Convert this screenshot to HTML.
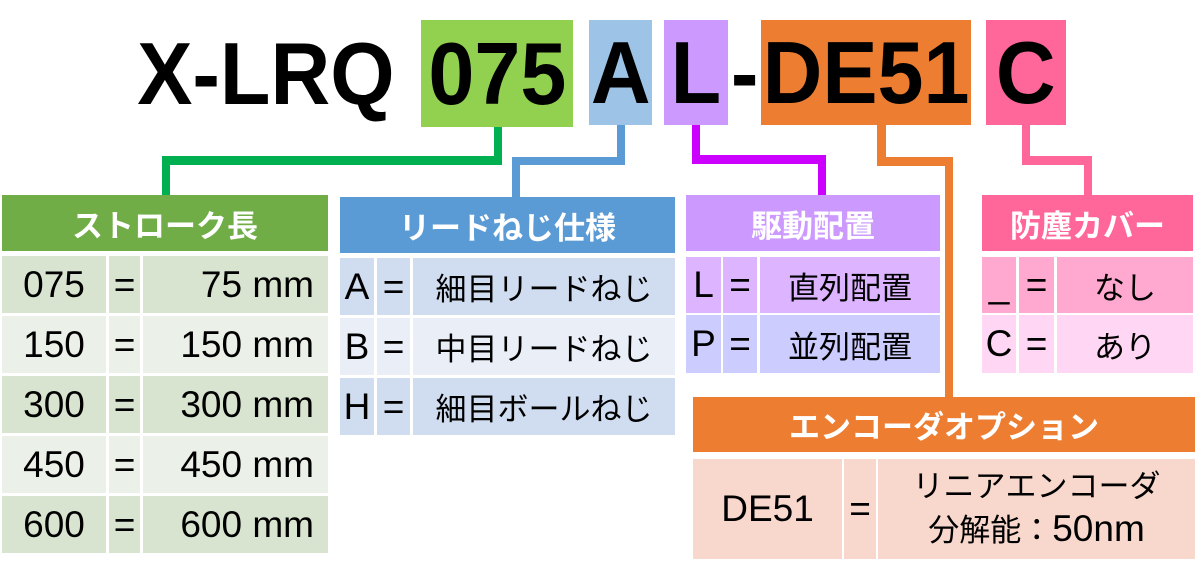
<!DOCTYPE html>
<html><head><meta charset="utf-8">
<style>
body{margin:0;width:1201px;height:577px;background:#fff;position:relative;overflow:hidden;font-family:"Liberation Sans","Noto Sans CJK JP",sans-serif;}
.a{position:absolute;box-sizing:border-box;}
.c{display:flex;align-items:center;justify-content:center;color:#000;font-size:31px;}
.l{font-size:37px;}
.h{display:flex;align-items:center;justify-content:center;color:#fff;font-size:31px;font-weight:bold;}
.t{position:absolute;top:20px;height:107px;font-family:"Liberation Sans",sans-serif;font-weight:bold;font-size:88px;line-height:107px;display:flex;align-items:center;justify-content:center;}
.t span{display:inline-block;transform:scaleX(0.94);}
.g{position:absolute;}
</style></head><body>
<div class="t" style="left:128px;width:276px;"><span>X-LRQ</span></div>
<div class="t" style="left:421px;width:152px;background:#92d050;"><span>075</span></div>
<div class="t" style="left:589px;width:63px;height:105px;background:#9dc3e6;"><span>A</span></div>
<div class="t" style="left:664px;width:64px;height:105px;background:#cc99ff;"><span>L</span></div>
<div class="t" style="left:728px;width:33px;height:105px;"><span>-</span></div>
<div class="t" style="left:761px;width:210px;height:105px;background:#ed7d31;"><span>DE51</span></div>
<div class="t" style="left:986px;width:80px;height:105px;background:#ff6699;"><span>C</span></div>

<!-- connectors -->
<div class="g" style="left:494px;top:127px;width:8px;height:38px;background:#00b050"></div>
<div class="g" style="left:162px;top:156px;width:340px;height:9px;background:#00b050"></div>
<div class="g" style="left:162px;top:156px;width:8px;height:39px;background:#00b050"></div>

<div class="g" style="left:617px;top:125px;width:8px;height:40px;background:#5b9bd5"></div>
<div class="g" style="left:512px;top:157px;width:113px;height:8px;background:#5b9bd5"></div>
<div class="g" style="left:512px;top:157px;width:8px;height:40px;background:#5b9bd5"></div>

<div class="g" style="left:692px;top:125px;width:8px;height:39px;background:#cc00ff"></div>
<div class="g" style="left:692px;top:155px;width:134px;height:9px;background:#cc00ff"></div>
<div class="g" style="left:818px;top:155px;width:8px;height:40px;background:#cc00ff"></div>

<div class="g" style="left:877px;top:125px;width:9px;height:41px;background:#ed7d31"></div>
<div class="g" style="left:877px;top:157px;width:76px;height:9px;background:#ed7d31"></div>
<div class="g" style="left:945px;top:157px;width:8px;height:241px;background:#ed7d31"></div>

<div class="g" style="left:1022px;top:125px;width:8px;height:40px;background:#ff6699"></div>
<div class="g" style="left:1022px;top:156px;width:70px;height:9px;background:#ff6699"></div>
<div class="g" style="left:1084px;top:156px;width:8px;height:39px;background:#ff6699"></div>

<!-- green table -->
<div class="a h" style="left:2px;top:195px;width:326px;height:56px;background:#70ad47">ストローク長</div>
<div class="a c l" style="left:2px;top:256px;width:104px;height:57px;background:#d8e4d0">075</div>
<div class="a c l" style="left:109px;top:256px;width:31px;height:57px;background:#d8e4d0">=</div>
<div class="a c l" style="left:143px;top:256px;width:185px;height:57px;background:#d8e4d0;justify-content:flex-end;padding-right:14px">75 mm</div>
<div class="a c l" style="left:2px;top:316px;width:104px;height:57px;background:#ebf0e8">150</div>
<div class="a c l" style="left:109px;top:316px;width:31px;height:57px;background:#ebf0e8">=</div>
<div class="a c l" style="left:143px;top:316px;width:185px;height:57px;background:#ebf0e8;justify-content:flex-end;padding-right:14px">150 mm</div>
<div class="a c l" style="left:2px;top:376px;width:104px;height:57px;background:#d8e4d0">300</div>
<div class="a c l" style="left:109px;top:376px;width:31px;height:57px;background:#d8e4d0">=</div>
<div class="a c l" style="left:143px;top:376px;width:185px;height:57px;background:#d8e4d0;justify-content:flex-end;padding-right:14px">300 mm</div>
<div class="a c l" style="left:2px;top:436px;width:104px;height:57px;background:#ebf0e8">450</div>
<div class="a c l" style="left:109px;top:436px;width:31px;height:57px;background:#ebf0e8">=</div>
<div class="a c l" style="left:143px;top:436px;width:185px;height:57px;background:#ebf0e8;justify-content:flex-end;padding-right:14px">450 mm</div>
<div class="a c l" style="left:2px;top:496px;width:104px;height:57px;background:#d8e4d0">600</div>
<div class="a c l" style="left:109px;top:496px;width:31px;height:57px;background:#d8e4d0">=</div>
<div class="a c l" style="left:143px;top:496px;width:185px;height:57px;background:#d8e4d0;justify-content:flex-end;padding-right:14px">600 mm</div>

<!-- blue table -->
<div class="a h" style="left:340px;top:197px;width:335px;height:56px;background:#5b9bd5">リードねじ仕様</div>
<div class="a c l" style="left:340px;top:258px;width:34px;height:57px;background:#d0dcef">A</div>
<div class="a c l" style="left:377px;top:258px;width:33px;height:57px;background:#d0dcef">=</div>
<div class="a c" style="left:413px;top:258px;width:262px;height:57px;background:#d0dcef">細目リードねじ</div>
<div class="a c l" style="left:340px;top:318px;width:34px;height:57px;background:#e9eef7">B</div>
<div class="a c l" style="left:377px;top:318px;width:33px;height:57px;background:#e9eef7">=</div>
<div class="a c" style="left:413px;top:318px;width:262px;height:57px;background:#e9eef7">中目リードねじ</div>
<div class="a c l" style="left:340px;top:378px;width:34px;height:57px;background:#d0dcef">H</div>
<div class="a c l" style="left:377px;top:378px;width:33px;height:57px;background:#d0dcef">=</div>
<div class="a c" style="left:413px;top:378px;width:262px;height:57px;background:#d0dcef">細目ボールねじ</div>

<!-- purple -->
<div class="a h" style="left:686px;top:195px;width:254px;height:56px;background:#cc99ff">駆動配置</div>
<div class="a c l" style="left:686px;top:257px;width:35px;height:56px;background:#dcb4ff">L</div>
<div class="a c l" style="left:723px;top:257px;width:34px;height:56px;background:#dcb4ff">=</div>
<div class="a c" style="left:760px;top:257px;width:180px;height:56px;background:#dcb4ff">直列配置</div>
<div class="a c l" style="left:686px;top:315px;width:35px;height:58px;background:#ccccff">P</div>
<div class="a c l" style="left:723px;top:315px;width:34px;height:58px;background:#ccccff">=</div>
<div class="a c" style="left:760px;top:315px;width:180px;height:58px;background:#ccccff">並列配置</div>

<!-- pink -->
<div class="a h" style="left:982px;top:195px;width:211px;height:56px;background:#ff6699">防塵カバー</div>
<div class="a c l" style="left:982px;top:257px;width:34px;height:56px;background:#ffa8d0">_</div>
<div class="a c l" style="left:1019px;top:257px;width:35px;height:56px;background:#ffa8d0">=</div>
<div class="a c" style="left:1057px;top:257px;width:136px;height:56px;background:#ffa8d0">なし</div>
<div class="a c l" style="left:982px;top:315px;width:34px;height:58px;background:#ffd6f4">C</div>
<div class="a c l" style="left:1019px;top:315px;width:35px;height:58px;background:#ffd6f4">=</div>
<div class="a c" style="left:1057px;top:315px;width:136px;height:58px;background:#ffd6f4">あり</div>

<!-- encoder -->
<div class="a h" style="left:693px;top:397px;width:502px;height:55px;background:#ed7d31">エンコーダオプション</div>
<div class="a c l" style="left:693px;top:459px;width:149px;height:100px;background:#f8d7cc">DE51</div>
<div class="a c l" style="left:844px;top:459px;width:32px;height:100px;background:#f8d7cc">=</div>
<div class="a c" style="left:878px;top:459px;width:317px;height:100px;background:#f8d7cc;flex-direction:column;line-height:42px"><div>リニアエンコーダ</div><div>分解能：<span style="font-size:37px">50nm</span></div></div>
</body></html>
